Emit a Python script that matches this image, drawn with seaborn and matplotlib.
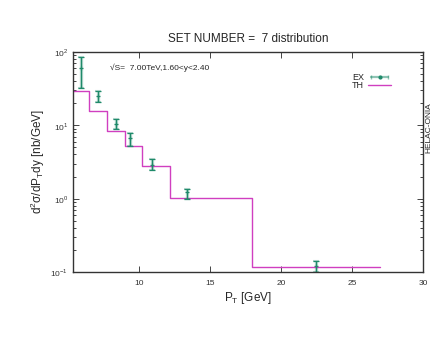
import numpy as np
import pandas as pd
import seaborn as sns
import matplotlib.pyplot as plt
from matplotlib.ticker import LogLocator, FixedLocator
from matplotlib.lines import Line2D
from matplotlib.legend_handler import HandlerLine2D, HandlerTuple

# experimental points
ex_pt = [5.9, 7.1, 8.4, 9.4, 10.9, 13.4, 22.5]
ex_val = [60.0, 25.0, 10.5, 6.6, 2.85, 1.22, 0.12]
ex_up = [86.0, 29.7, 12.3, 7.9, 3.5, 1.36, 0.143]
ex_lo = [32.0, 21.0, 8.9, 5.25, 2.45, 1.0, 0.1]

# theory histogram (bin edges and contents)
th_edges = [5.35, 6.5, 7.75, 9.0, 10.2, 12.2, 18.0, 27.0]
th_val = [29.5, 15.8, 8.4, 5.2, 2.8, 1.03, 0.117]

ex_col = '#1f8a6a'
th_col = '#d03fc0'

sns.set_style('ticks')
plt.rcParams['font.family'] = ['Liberation Sans', 'DejaVu Sans']
plt.rcParams['mathtext.fontset'] = 'custom'
plt.rcParams['mathtext.rm'] = 'Liberation Sans'

fig = plt.figure(figsize=(4.36, 3.37), dpi=100)
ax = fig.add_axes([0.167, 0.193, 0.803, 0.653])

th_df = pd.DataFrame({'pt': th_edges, 'val': th_val + [th_val[-1]]})
sns.lineplot(data=th_df, x='pt', y='val', drawstyle='steps-post',
             color=th_col, lw=1.0, ax=ax, label='_th')

ex_df = pd.DataFrame({'pt': ex_pt, 'val': ex_val, 'up': ex_up, 'lo': ex_lo})
yerr = [ex_df['val'] - ex_df['lo'], ex_df['up'] - ex_df['val']]
ax.errorbar(ex_df['pt'], ex_df['val'], yerr=yerr, fmt='none',
            ecolor=ex_col, alpha=0.3, elinewidth=2.4, capsize=2.5, capthick=1.5)
ax.errorbar(ex_df['pt'], ex_df['val'], yerr=yerr, fmt='none',
            ecolor=ex_col, elinewidth=0.9, capsize=2.0, capthick=0.9)
sns.scatterplot(data=ex_df, x='pt', y='val', color=ex_col, s=5,
                marker='+', linewidth=0.9, ax=ax, legend=False)

ax.set_yscale('log')
ax.set_xlim(5.35, 30)
ax.set_ylim(0.1, 100)
ax.xaxis.set_major_locator(FixedLocator([10, 15, 20, 25, 30]))
ax.yaxis.set_major_locator(FixedLocator([0.1, 1, 10, 100]))
ax.set_yticklabels(['10$^{\\mathregular{-1}}$', '10$^{\\mathregular{0}}$',
                    '10$^{\\mathregular{1}}$', '10$^{\\mathregular{2}}$'])
ax.yaxis.set_minor_locator(LogLocator(base=10, subs=np.arange(2, 10)))
ax.tick_params(which='both', direction='in', top=True, right=True,
               labelsize=6, colors='#444444', labelcolor='#333333', width=0.7)
ax.tick_params(which='major', length=4)
ax.tick_params(which='minor', length=2)
ax.tick_params(axis='x', pad=6)
for s in ax.spines.values():
    s.set_color('#333333')
    s.set_linewidth(1.0)

ax.set_title('SET NUMBER =  7 distribution', fontsize=8.5, pad=7)
ax.set_xlabel('P$_{\\mathregular{T}}$ [GeV]', fontsize=8.5, labelpad=2)
ax.set_ylabel('d$^{\\mathregular{2}}$\u03c3/dP$_{\\mathregular{T}}$dy [nb/GeV]',
              fontsize=8.5, labelpad=2)
ax.text(0.105, 0.93, '\u221aS=  7.00TeV,1.60<y<2.40', transform=ax.transAxes,
        fontsize=6, ha='left', va='center')
fig.text(0.984, 0.62, 'HELAC-ONIA', rotation=90, fontsize=6,
         ha='center', va='center')

ex_line = Line2D([], [], color=ex_col, lw=1.6, alpha=0.5, marker='|',
                 ms=3.5, mew=1.0)
ex_dot = Line2D([], [], color=ex_col, ls='none', marker='o', ms=2)
h_th = Line2D([], [], color=th_col, lw=1.0)
ax.legend([(ex_line, ex_dot), h_th], ['EX', 'TH'], loc='upper right',
          bbox_to_anchor=(0.909, 0.905), markerfirst=False, frameon=False,
          fontsize=6.5, handlelength=2.5, handletextpad=0.5,
          labelspacing=-0.1, borderpad=0, borderaxespad=0,
          handler_map={ex_line: HandlerLine2D(numpoints=2),
                       ex_dot: HandlerLine2D(numpoints=1),
                       tuple: HandlerTuple(ndivide=1, pad=0)})

fig.savefig('out.png', dpi=100)
